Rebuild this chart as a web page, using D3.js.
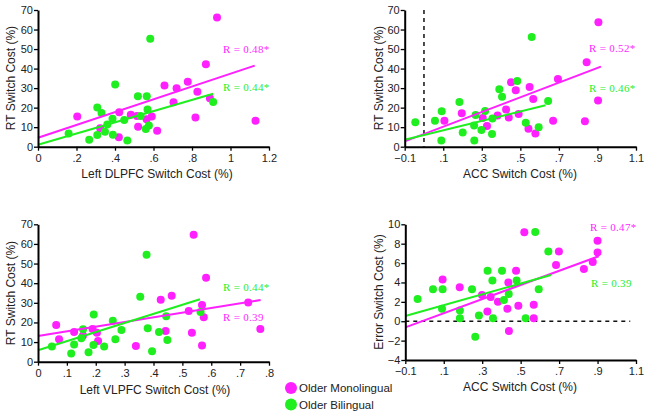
<!DOCTYPE html>
<html><head><meta charset="utf-8">
<script src="https://cdn.jsdelivr.net/npm/d3@7"></script>
<style>
html,body{margin:0;padding:0;background:#fff;}
svg{display:block;}
</style></head>
<body>
<svg id="chart" width="649" height="417"></svg>
<script>
// ---------- DATA ----------
const seriesNames = ["Older Monolingual", "Older Bilingual"];

// Panel 1: Left DLPFC vs RT switch cost
const dlpfcMono = [[0.93,66.2],[0.872,42.2],[1.13,13.3],[0.778,33.3],[0.828,28.2],[0.657,31.4],[0.72,29.9],[0.704,22.7],[0.893,24.8],[0.818,14.9],[0.204,15.5],[0.422,17.6],[0.482,16.4],[0.514,15.7],[0.591,15.5],[0.564,14.0],[0.323,9.4],[0.52,10.2],[0.619,8.2],[0.42,4.8]];
const dlpfcBi = [[0.583,55.3],[0.401,31.8],[0.519,25.8],[0.565,25.8],[0.308,20.1],[0.33,17.2],[0.569,19.0],[0.91,22.9],[0.387,14.3],[0.448,13.7],[0.533,15.7],[0.36,11.4],[0.576,10.8],[0.56,9.0],[0.159,6.7],[0.348,7.7],[0.308,6.0],[0.389,6.1],[0.266,3.6],[0.464,3.2]];
const dlpfcFitMono = [[0,4.6],[1.126,41.5]];
const dlpfcFitBi = [[0,1.0],[0.91,27.1]];

// Panel 2: ACC vs RT switch cost
const accRtMono = [[0.905,63.7],[0.844,43.2],[0.903,23.7],[0.835,13.0],[0.695,34.7],[0.67,13.3],[0.452,33.0],[0.476,28.9],[0.548,30.6],[0.567,24.4],[0.491,16.7],[0.426,19.0],[0.382,16.0],[0.44,14.9],[0.305,14.7],[0.327,10.6],[0.196,17.1],[0.106,13.3],[0.542,9.2],[0.578,6.8]];
const accRtBi = [[0.559,56.2],[0.484,33.6],[0.391,29.4],[0.405,25.6],[0.644,23.4],[0.184,22.9],[0.092,18.1],[0.268,16.2],[0.317,18.3],[0.355,14.5],[0.057,13.3],[-0.045,12.5],[0.26,10.9],[0.528,12.3],[0.595,9.9],[0.201,7.3],[0.298,8.5],[0.353,6.5],[0.09,3.2],[0.261,3.2]];
const accRtFitMono = [[-0.1,2.7],[0.918,41.0]];
const accRtFitBi = [[-0.1,3.6],[0.631,21.2]];

// Panel 3: Left VLPFC vs RT switch cost
const vlpfcMono = [[0.539,64.7],[0.582,42.8],[0.463,33.6],[0.425,31.6],[0.522,25.8],[0.568,28.9],[0.574,22.6],[0.728,30.2],[0.77,16.6],[0.442,15.6],[0.533,14.8],[0.568,8.3],[0.339,8.0],[0.063,18.7],[0.073,11.4],[0.125,15.1],[0.156,13.4],[0.189,16.6],[0.204,14.8],[0.208,10.5]];
const vlpfcBi = [[0.376,54.5],[0.354,33.1],[0.38,17.0],[0.193,24.1],[0.259,20.9],[0.289,16.1],[0.156,16.5],[0.15,11.9],[0.125,8.8],[0.192,8.5],[0.229,7.8],[0.268,11.4],[0.048,7.8],[0.115,4.2],[0.175,4.8],[0.395,5.3],[0.419,15.1],[0.444,23.1],[0.448,11.0],[0.563,25.3]];
const vlpfcFitMono = [[0,13.1],[0.771,31.4]];
const vlpfcFitBi = [[0,5.8],[0.561,31.8]];

// Panel 4: ACC vs Error switch cost
const accErrMono = [[0.519,9.17],[0.9,8.3],[0.9,7.1],[0.699,7.2],[0.684,5.8],[0.875,6.1],[0.829,5.4],[0.476,5.2],[0.436,4.0],[0.094,4.3],[0.183,3.5],[0.299,2.7],[0.344,2.5],[0.382,2.0],[0.327,1.0],[0.431,1.3],[0.488,1.6],[0.568,1.7],[0.568,0.3],[0.439,-1.0]];
const accErrBi = [[0.576,9.2],[0.644,7.2],[0.328,5.2],[0.403,5.2],[0.353,4.2],[0.479,4.2],[0.594,3.3],[0.247,3.3],[0.044,3.3],[0.094,3.3],[-0.036,2.3],[0.091,1.3],[0.184,1.1],[0.184,0.3],[0.283,0.6],[0.356,0.3],[0.413,2.2],[0.438,2.8],[0.526,0.3],[0.264,-1.6]];
const accErrFitMono = [[-0.1,-0.63],[0.906,6.7]];
const accErrFitBi = [[-0.1,0.54],[0.658,4.77]];

// Tick values
const xTicksDLPFC = [0,0.2,0.4,0.6,0.8,1.0,1.2];
const xTicksACC = [-0.1,0.1,0.3,0.5,0.7,0.9,1.1];
const xTicksVLPFC = [0,0.1,0.2,0.3,0.4,0.5,0.6,0.7,0.8];
const yTicksRT = [0,10,20,30,40,50,60,70];
const yTicksErr = [-4,-2,0,2,4,6,8,10];

// Correlation labels
const rLabels = [
  ["R = 0.48*", "R = 0.44*"],
  ["R = 0.52*", "R = 0.46*"],
  ["R = 0.39", "R = 0.44*"],
  ["R = 0.47*", "R = 0.39"]
];

// ---------- STYLE / LAYOUT ----------
const colMono = "#ff1fff";
const colBi = "#1fee1f";
const svg = d3.select("#chart");

function fmt(v){
  if (Math.abs(v) < 1e-9) return "0";
  let s = d3.format("")(+v.toFixed(2));
  s = s.replace(/^0\./, ".").replace(/^-0\./, "-.");
  return s;
}

const panels = [
  {box:[38,269,10,146.7], xd:[0,1.2], yd:[0,70], xt:xTicksDLPFC, yt:yTicksRT,
   mono:dlpfcMono, bi:dlpfcBi, fm:dlpfcFitMono, fb:dlpfcFitBi,
   xl:"Left DLPFC Switch Cost (%)", yl:"RT Switch Cost (%)",
   labels:[{t:rLabels[0][0],c:colMono,x:223,y:53},{t:rLabels[0][1],c:colBi,x:223,y:91}],
   xlPos:[157,178], ylPos:[15,78]},
  {box:[404.7,636,10,146.7], xd:[-0.1,1.1], yd:[0,70], xt:xTicksACC, yt:yTicksRT,
   mono:accRtMono, bi:accRtBi, fm:accRtFitMono, fb:accRtFitBi,
   xl:"ACC Switch Cost (%)", yl:"RT Switch Cost (%)",
   labels:[{t:rLabels[1][0],c:colMono,x:589,y:52},{t:rLabels[1][1],c:colBi,x:589,y:92}],
   xlPos:[520,178], ylPos:[383,78], vline:0},
  {box:[38,269,224.3,361.7], xd:[0,0.8], yd:[0,70], xt:xTicksVLPFC, yt:yTicksRT,
   mono:vlpfcMono, bi:vlpfcBi, fm:vlpfcFitMono, fb:vlpfcFitBi,
   xl:"Left VLPFC Switch Cost (%)", yl:"RT Switch Cost (%)",
   labels:[{t:rLabels[2][1],c:colBi,x:223,y:291},{t:rLabels[2][0],c:colMono,x:223,y:321}],
   xlPos:[155,394], ylPos:[15,293]},
  {box:[405.3,636,224.3,360], xd:[-0.1,1.1], yd:[-4,10], xt:xTicksACC, yt:yTicksErr,
   mono:accErrMono, bi:accErrBi, fm:accErrFitMono, fb:accErrFitBi,
   xl:"ACC Switch Cost (%)", yl:"Error Switch Cost (%)",
   labels:[{t:rLabels[3][0],c:colMono,x:590,y:231},{t:rLabels[3][1],c:colBi,x:591,y:287}],
   xlPos:[520,391], ylPos:[383,292], hline:[0,-0.1,1.07]}
];

panels.forEach(p => {
  const [l,r,t,b] = p.box;
  const x = d3.scaleLinear().domain(p.xd).range([l,r]);
  const y = d3.scaleLinear().domain(p.yd).range([b,t]);
  const g = svg.append("g");

  // reference dashed lines
  if (p.vline !== undefined) {
    g.append("line").attr("x1",x(p.vline)).attr("x2",x(p.vline)).attr("y1",y(p.yd[1])).attr("y2",y(p.yd[0]))
      .attr("stroke","#111").attr("stroke-width",1.5).attr("stroke-dasharray","4,4");
  }
  if (p.hline) {
    g.append("line").attr("x1",x(p.hline[1])).attr("x2",x(p.hline[2])).attr("y1",y(p.hline[0])).attr("y2",y(p.hline[0]))
      .attr("stroke","#111").attr("stroke-width",1.5).attr("stroke-dasharray","4,4");
  }

  // points
  [[p.mono,colMono],[p.bi,colBi]].forEach(([d,c]) => {
    g.append("g").selectAll("circle").data(d).join("circle")
      .attr("cx",v=>x(v[0])).attr("cy",v=>y(v[1])).attr("r",4).attr("fill",c);
  });

  // fit lines
  const line = d3.line().x(v=>x(v[0])).y(v=>y(v[1]));
  g.append("path").attr("d",line(p.fm)).attr("stroke",colMono).attr("stroke-width",2).attr("fill","none");
  g.append("path").attr("d",line(p.fb)).attr("stroke",colBi).attr("stroke-width",2).attr("fill","none");

  // axes
  const ax = g.append("g").attr("transform",`translate(0,${b})`)
    .call(d3.axisBottom(x).tickValues(p.xt).tickFormat(fmt).tickSize(4).tickSizeOuter(0).tickPadding(3.5));
  const ay = g.append("g").attr("transform",`translate(${l},0)`)
    .call(d3.axisLeft(y).tickValues(p.yt).tickFormat(fmt).tickSize(4).tickSizeOuter(0).tickPadding(1));
  [ax,ay].forEach(a => {
    a.select(".domain").attr("stroke","#000").attr("stroke-width",2);
    a.selectAll(".tick line").attr("stroke","#000").attr("stroke-width",1.3);
    a.selectAll(".tick text").attr("fill","#222").style("font-family","'Liberation Sans', Arial, sans-serif").style("font-size","11px");
  });

  // axis titles
  g.append("text").attr("x",p.xlPos[0]).attr("y",p.xlPos[1]).attr("text-anchor","middle")
    .style("font-family","'Liberation Sans', Arial, sans-serif").style("font-size","12px").attr("fill","#222").text(p.xl);
  g.append("text").attr("transform",`translate(${p.ylPos[0]},${p.ylPos[1]}) rotate(-90)`).attr("text-anchor","middle")
    .style("font-family","'Liberation Sans', Arial, sans-serif").style("font-size","12px").attr("fill","#222").text(p.yl);

  // R labels
  p.labels.forEach(L => {
    g.append("text").attr("x",L.x).attr("y",L.y).attr("fill",L.c)
      .style("font-family","'Liberation Serif', 'Times New Roman', serif").style("font-size","11px")
      .style("letter-spacing","0.3px").text(L.t);
  });
});

// legend
const legend = svg.append("g");
[[seriesNames[0],colMono],[seriesNames[1],colBi]].forEach(([n,c],i) => {
  legend.append("circle").attr("cx",291).attr("cy",388+i*16.5).attr("r",6).attr("fill",c);
  legend.append("text").attr("x",299).attr("y",392+i*16.5)
    .style("font-family","'Liberation Sans', Arial, sans-serif").style("font-size","11.5px").attr("fill","#222").text(n);
});
</script>
</body></html>
